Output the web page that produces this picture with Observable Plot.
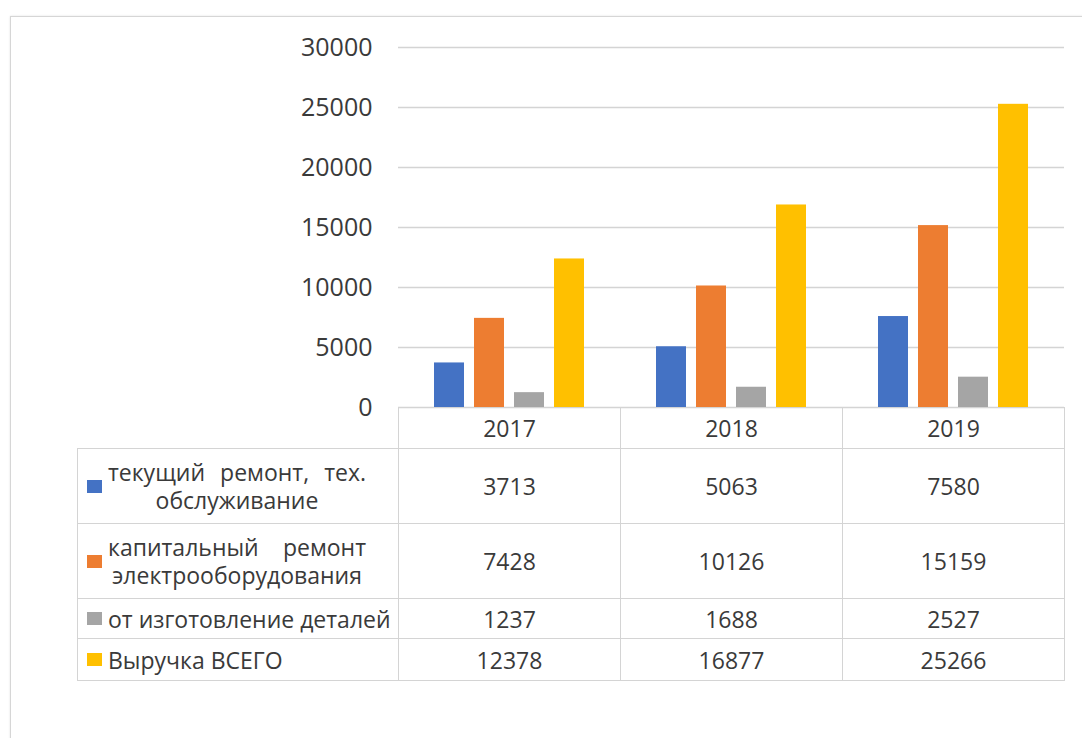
<!DOCTYPE html>
<html>
<head>
<meta charset="utf-8">
<script src="https://cdn.jsdelivr.net/npm/d3@7"></script>
<script src="https://cdn.jsdelivr.net/npm/@observablehq/plot@0.6"></script>
<style>
  html, body { margin: 0; padding: 0; background: #fff; }
  body { width: 1082px; height: 738px; position: relative; overflow: hidden; font-family: "Open Sans", sans-serif; }
  #frame { position: absolute; left: 10px; top: 16px; width: 1100px; height: 800px; border: 1.5px solid #d6d6d6; box-shadow: 0 0 2px #e4e4e4; }
  #chart { position: absolute; left: 0; top: 0; }
  #table { position: absolute; left: 77px; top: 407px; width: 987px; table-layout: fixed; border-collapse: collapse; color: #3a3a3a; font-size: 23px; }
  #table td { border: 1.5px solid #d4d4d4; padding: 0; text-align: center; vertical-align: middle; }
  #table td.corner { border-top: none; border-left: none; }
  #table td.label { text-align: left; padding-left: 9px; }
  .lab { display: flex; align-items: center; }
  .key { flex: none; width: 15px; height: 13px; margin-right: 6px; }
  .txt { line-height: 28px; }
  .wrap .txt { width: 258px; text-align: justify; text-align-last: center; }
  .single .txt { white-space: nowrap; }
</style>
</head>
<body>
<div id="frame"></div>
<div id="chart"></div>
<table id="table"></table>
<script>
// Revenue by type of work, 2017–2019
const years = ["2017", "2018", "2019"];
const seriesNames = [
  "текущий ремонт, тех. обслуживание",
  "капитальный ремонт электрооборудования",
  "от изготовление деталей",
  "Выручка ВСЕГО"
];
const currentRepair = [3713, 5063, 7580];
const capitalRepair = [7428, 10126, 15159];
const partsMaking = [1237, 1688, 2527];
const totalRevenue = [12378, 16877, 25266];
const seriesColors = ["#4472C4", "#ED7D31", "#A5A5A5", "#FFC000"];
const yTicks = [0, 5000, 10000, 15000, 20000, 25000, 30000];

const seriesValues = [currentRepair, capitalRepair, partsMaking, totalRevenue];
const rows = [];
years.forEach((year, i) => {
  seriesNames.forEach((name, k) => rows.push({year, series: name, value: seriesValues[k][i]}));
});

const chart = Plot.plot({
  width: 1082,
  height: 408,
  marginLeft: 398,
  marginRight: 18,
  marginTop: 47,
  marginBottom: 1,
  style: {fontFamily: "Open Sans, sans-serif", background: "transparent", overflow: "visible"},
  fx: {domain: years, padding: 0, axis: null, label: null},
  x: {domain: seriesNames, axis: null, paddingInner: 0.24, paddingOuter: 0.85},
  y: {domain: [0, 30000]},
  color: {domain: seriesNames, range: seriesColors},
  marks: [
    Plot.gridY(yTicks, {stroke: "#d4d4d4", strokeOpacity: 1, strokeWidth: 1.5}),
    Plot.axisY(yTicks, {tickSize: 0, tickPadding: 26, fontSize: 25, fill: "#3a3a3a", label: null, tickFormat: d => String(d)}),
    Plot.barY(rows, {fx: "year", x: "series", y: "value", fill: "series"})
  ]
});
document.getElementById("chart").appendChild(chart);

// Data table under the chart
const table = document.getElementById("table");
const colWidths = [321, 222, 222, 222];
const colgroup = document.createElement("colgroup");
colWidths.forEach(w => {
  const col = document.createElement("col");
  col.style.width = w + "px";
  colgroup.appendChild(col);
});
table.appendChild(colgroup);

const header = document.createElement("tr");
header.style.height = "41px";
const corner = document.createElement("td");
corner.className = "corner";
header.appendChild(corner);
years.forEach(y => {
  const td = document.createElement("td");
  td.textContent = y;
  header.appendChild(td);
});
table.appendChild(header);

const rowHeights = [75, 75, 40, 42];
const rowKinds = ["wrap", "wrap", "single", "single"];
seriesNames.forEach((name, k) => {
  const tr = document.createElement("tr");
  tr.style.height = rowHeights[k] + "px";
  const lab = document.createElement("td");
  lab.className = "label " + rowKinds[k];
  lab.innerHTML = `<div class="lab"><span class="key" style="background:${seriesColors[k]}"></span><span class="txt">${name}</span></div>`;
  tr.appendChild(lab);
  seriesValues[k].forEach(v => {
    const td = document.createElement("td");
    td.textContent = v;
    tr.appendChild(td);
  });
  table.appendChild(tr);
});
</script>
</body>
</html>
